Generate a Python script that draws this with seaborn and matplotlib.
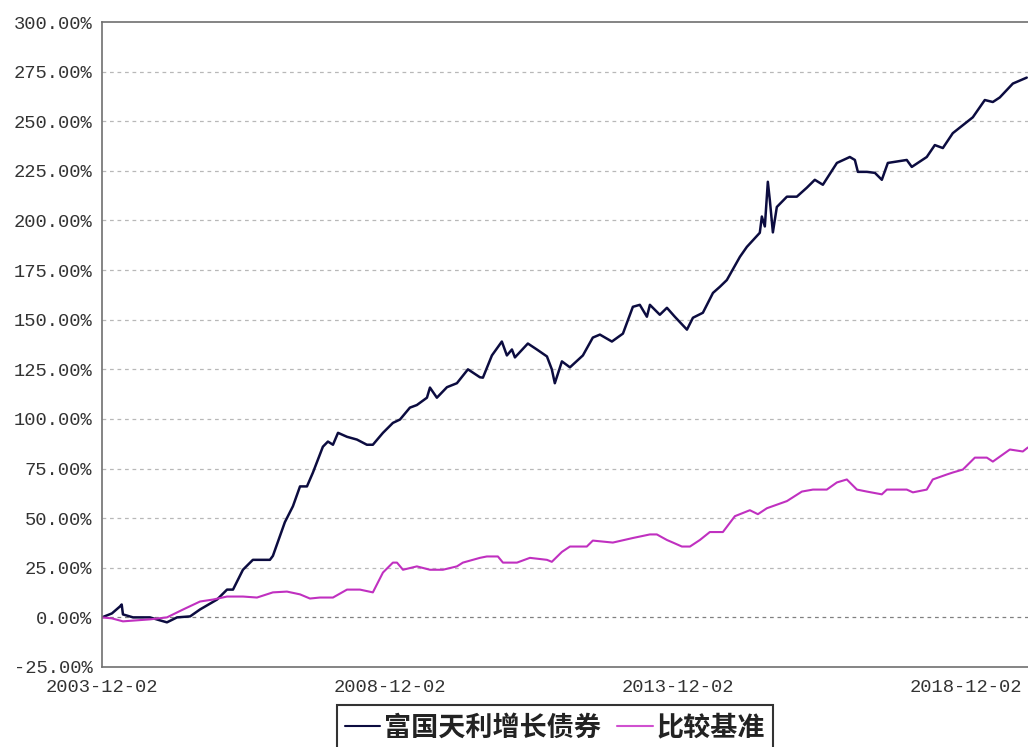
import pandas as pd
import numpy as np
import matplotlib
matplotlib.use('Agg')
import matplotlib.pyplot as plt
import matplotlib.dates as mdates
from matplotlib.ticker import FuncFormatter
import seaborn as sns

sns.set_style('white')
plt.rcParams['font.family'] = ['Liberation Mono', 'Noto Sans CJK SC', 'DejaVu Sans']

fund_name = '富国天利增长债券'
bench_name = '比较基准'

# cumulative return (%)
fund_dates = [
    '2003-12-02', '2004-02-03', '2004-03-25', '2004-04-05', '2004-04-13', '2004-06-16',
    '2004-10-01', '2004-12-04', '2005-01-17', '2005-03-22', '2005-06-13', '2005-08-15',
    '2005-12-01', '2006-02-02', '2006-03-12', '2006-05-14', '2006-07-16', '2006-11-01',
    '2006-11-20', '2007-02-04', '2007-03-27', '2007-05-11', '2007-06-24', '2007-08-01',
    '2007-10-03', '2007-11-04', '2007-12-06', '2008-01-07', '2008-03-04', '2008-05-06',
    '2008-07-08', '2008-08-15', '2008-10-18', '2008-12-20', '2009-02-03', '2009-04-07',
    '2009-05-21', '2009-07-24', '2009-08-12', '2009-09-25', '2009-11-28', '2010-01-30',
    '2010-04-10', '2010-06-25', '2010-07-14', '2010-09-09', '2010-11-11', '2010-12-13',
    '2011-01-14', '2011-02-02', '2011-04-25', '2011-06-21', '2011-08-24', '2011-09-24',
    '2011-10-13', '2011-11-27', '2012-01-17', '2012-04-08', '2012-06-10', '2012-07-25',
    '2012-10-09', '2012-12-18', '2013-02-19', '2013-04-04', '2013-05-19', '2013-06-07',
    '2013-08-09', '2013-09-23', '2013-11-12', '2014-01-28', '2014-03-07', '2014-05-09',
    '2014-07-12', '2014-08-25', '2014-10-08', '2014-12-30', '2015-02-12', '2015-05-05',
    '2015-05-18', '2015-06-06', '2015-06-25', '2015-07-08', '2015-07-27', '2015-08-21',
    '2015-10-24', '2015-12-26', '2016-02-27', '2016-04-18', '2016-06-08', '2016-09-05',
    '2016-11-26', '2016-12-28', '2017-01-16', '2017-03-14', '2017-05-04', '2017-06-17',
    '2017-07-25', '2017-11-22', '2017-12-24', '2018-03-29', '2018-05-19', '2018-07-09',
    '2018-09-10', '2019-01-15', '2019-04-01', '2019-05-22', '2019-07-05', '2019-09-26',
    '2019-12-23',
]
fund_values = [
    0, 2, 5.5, 6.5, 1.5, 0,
    0, -1.5, -2.5, 0, 0.5, 4,
    9, 14, 14, 24, 29, 29,
    31, 48, 56, 66, 66, 73,
    86, 88.6, 87, 93, 91, 89.6,
    87, 87, 93, 98, 99.7, 105.7,
    107, 110.7, 115.8, 110.7, 116, 118,
    125, 121, 120.8, 132, 139, 132,
    135, 131, 138, 135, 131.5, 125,
    118, 129, 126, 132, 141, 142.5,
    139, 143, 156.5, 157.5, 151.5, 157.5,
    152.5, 156, 151.5, 145, 151, 153.5,
    163.5, 166.6, 170, 181.7, 186.7, 193.8,
    202, 197, 219.5, 210, 194, 206.8,
    212, 212, 216.5, 220.5, 218, 229,
    232, 230.5, 224.5, 224.5, 224, 220.5,
    229, 230.5, 227, 232, 238, 236.5,
    244, 252, 260.7, 259.7, 262, 269,
    272,
]

bench_dates = [
    '2003-12-02', '2004-02-03', '2004-04-13', '2004-10-01', '2005-01-17', '2005-04-30',
    '2005-08-15', '2005-11-06', '2006-02-02', '2006-05-14', '2006-08-11', '2006-11-20',
    '2007-02-17', '2007-05-11', '2007-07-13', '2007-09-14', '2007-12-06', '2008-03-04',
    '2008-05-25', '2008-08-15', '2008-10-18', '2008-12-20', '2009-01-15', '2009-02-22',
    '2009-05-21', '2009-08-12', '2009-11-02', '2010-01-30', '2010-03-09', '2010-06-25',
    '2010-08-08', '2010-10-17', '2010-11-18', '2011-02-15', '2011-05-08', '2011-08-24',
    '2011-09-24', '2011-11-27', '2012-01-17', '2012-05-03', '2012-06-10', '2012-10-15',
    '2013-02-19', '2013-06-07', '2013-07-21', '2013-09-23', '2013-10-31', '2013-12-27',
    '2014-02-16', '2014-04-20', '2014-06-22', '2014-09-13', '2014-11-28', '2015-03-03',
    '2015-04-23', '2015-06-19', '2015-10-24', '2016-01-27', '2016-04-06', '2016-07-03',
    '2016-09-05', '2016-11-07', '2017-01-10', '2017-03-14', '2017-06-17', '2017-07-19',
    '2017-11-22', '2017-12-31', '2018-03-29', '2018-05-06', '2018-08-03', '2018-09-10',
    '2018-11-13', '2019-01-28', '2019-04-14', '2019-05-22', '2019-09-07', '2019-11-28',
    '2019-12-30',
]
bench_values = [
    0, -0.5, -2, -1, 0, 4,
    8, 9, 10.5, 10.5, 10, 12.6,
    13, 11.6, 9.5, 10, 10, 14,
    14, 12.6, 22.6, 27.6, 27.6, 24,
    25.7, 24, 24, 25.7, 27.6, 30,
    30.7, 30.7, 27.6, 27.6, 30, 29,
    28, 33, 35.7, 35.7, 38.7, 37.7,
    40, 41.8, 41.8, 39, 37.7, 35.7,
    35.7, 39, 43, 43, 51, 54,
    52, 55, 58.6, 63.4, 64.4, 64.4,
    68, 69.5, 64.4, 63.4, 62, 64.4,
    64.4, 63, 64.4, 69.5, 72, 73,
    74.5, 80.5, 80.5, 78.5, 84.6, 83.6,
    85.6,
]

tick_dates = ['2003-12-02', '2008-12-02', '2013-12-02', '2018-12-02']
y_ticks = [-25, 0, 25, 50, 75, 100, 125, 150, 175, 200, 225, 250, 275, 300]

df = pd.concat([
    pd.DataFrame({'date': pd.to_datetime(fund_dates), 'value': fund_values, 'series': fund_name}),
    pd.DataFrame({'date': pd.to_datetime(bench_dates), 'value': bench_values, 'series': bench_name}),
])

fig = plt.figure(figsize=(10.28, 7.47), dpi=100)
ax = fig.add_axes([0.0992, 0.1071, 0.9008, 0.8634])

# grid first so the lines sit on top
for v in y_ticks[1:-1]:
    ax.axhline(v, color='#808080' if v == 0 else '#b8b8b8', lw=0.9,
               ls=(0, (3, 3)), zorder=0)

sns.lineplot(data=df, x='date', y='value', hue='series', sort=False,
             palette={fund_name: '#0c0c40', bench_name: '#c030c0'},
             ax=ax, legend=False)
ax.lines[-2].set_linewidth(1.8)
ax.lines[-1].set_linewidth(1.5)

ax.set_xlim(pd.Timestamp('2003-12-02'), pd.Timestamp('2019-12-31'))
ax.set_ylim(-25, 300)
ax.set_yticks(y_ticks)
ax.yaxis.set_major_formatter(FuncFormatter(lambda v, p: f'{v:.2f}%'))
ax.set_xticks(pd.to_datetime(tick_dates))
ax.set_xticklabels(tick_dates)
ax.set_xlabel('')
ax.set_ylabel('')

for s in ['left', 'bottom', 'top']:
    ax.spines[s].set_color('#707070')
    ax.spines[s].set_linewidth(1.2)
ax.spines['right'].set_visible(False)
ax.tick_params(axis='y', direction='out', length=5, width=1, color='#707070',
               labelsize=13.5, labelcolor='#333333', pad=2)
ax.tick_params(axis='x', direction='in', length=4, width=1, color='#707070',
               labelsize=13.5, labelcolor='#333333', pad=9)

handles = [plt.Line2D([], [], color='#0c0c40', lw=1.5),
           plt.Line2D([], [], color='#d050d0', lw=1.5)]
leg = fig.legend(handles, [fund_name, bench_name], loc='upper center',
                 bbox_to_anchor=(0.54, 0.056), ncol=2, frameon=True,
                 fancybox=False, handlelength=1.3, handletextpad=0.15,
                 columnspacing=0.6, borderpad=0.3, borderaxespad=0,
                 prop={'family': ['Noto Sans CJK SC', 'DejaVu Sans'],
                       'weight': 'bold', 'size': 19.5})
leg.get_frame().set_edgecolor('black')
leg.get_frame().set_linewidth(1.5)
for t in leg.get_texts():
    t.set_color('#222222')

fig.savefig('out.png', dpi=100)
